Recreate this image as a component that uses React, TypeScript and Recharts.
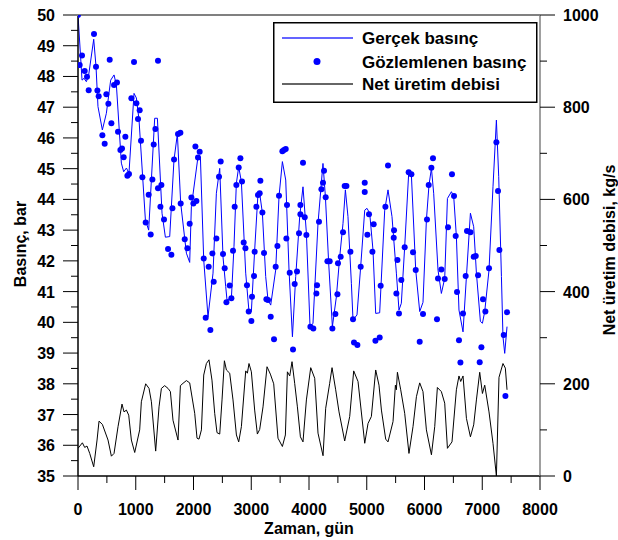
import { ComposedChart, Line, Scatter, XAxis, YAxis, ReferenceLine, Legend, Label } from 'recharts';

// [gün, bar]
const gercekBasinc: [number, number][] = [
  [0, 50], [70, 47.88], [104, 47.94], [145, 47.83], [185, 48.05], [272, 49.21], [312, 48.32],
  [346, 47.02], [422, 46.26], [491, 46.8], [566, 47.88], [624, 48.05], [665, 47.72], [751, 45.18],
  [791, 44.9], [838, 45.02], [883, 44.86], [970, 47.45], [1011, 47.3], [1057, 46.58], [1167, 43.33],
  [1224, 43.0], [1328, 46.64], [1375, 46.64], [1455, 43.55], [1513, 42.77], [1588, 42.79], [1662, 45.28],
  [1721, 46.13], [1778, 43.88], [1877, 42.25], [1934, 41.95], [1963, 43.76], [2078, 45.39], [2120, 45.34],
  [2177, 42.03], [2251, 40.18], [2338, 41.6], [2396, 44.2], [2454, 45.01], [2511, 42.13], [2558, 41.16],
  [2580, 40.73], [2656, 40.78], [2701, 42.46], [2742, 44.52], [2783, 45.06], [2829, 44.57], [2904, 41.6],
  [2961, 40.35], [3002, 40.35], [3059, 42.35], [3117, 44.2], [3146, 44.2], [3193, 43.55], [3250, 41.49],
  [3290, 40.73], [3337, 40.56], [3423, 41.7], [3481, 44.1], [3539, 45.23], [3597, 44.63], [3654, 41.7],
  [3713, 39.53], [3770, 41.49], [3839, 43.44], [3896, 44.41], [3955, 42.9], [4018, 39.86], [4069, 39.97],
  [4156, 43.22], [4242, 45.17], [4284, 44.09], [4341, 41.92], [4405, 39.86], [4474, 40.83], [4532, 42.13],
  [4589, 43.22], [4630, 44.31], [4675, 43.44], [4734, 41.27], [4762, 40.08], [4831, 40.24], [4895, 41.81],
  [4965, 43.65], [5004, 43.71], [5051, 43.55], [5108, 42.35], [5155, 40.29], [5224, 40.31], [5311, 43.65],
  [5368, 44.31], [5437, 43.44], [5513, 41.6], [5558, 40.4], [5599, 40.62], [5657, 42.46], [5726, 44.85],
  [5773, 44.79], [5848, 41.7], [5917, 40.35], [5974, 40.65], [6033, 43.33], [6078, 44.47], [6120, 45.01],
  [6159, 44.2], [6234, 41.7], [6292, 40.94], [6350, 41.43], [6397, 44.03], [6466, 44.25], [6506, 44.09],
  [6552, 42.79], [6597, 40.4], [6667, 39.69], [6726, 41.49], [6795, 43.55], [6852, 43.11], [6899, 41.6],
  [6968, 40.03], [7003, 39.97], [7043, 40.35], [7117, 41.7], [7186, 44.41], [7245, 46.58], [7285, 44.74],
  [7332, 41.49], [7359, 39.53], [7389, 38.99], [7429, 39.86],
];

// [gün, bar]
const gozlemlenenBasinc: [number, number][] = [
  [0, 50], [29, 48.37], [69, 48.68], [116, 48.18], [156, 47.99], [185, 47.55], [277, 49.38], [312, 48.32],
  [336, 47.54], [358, 47.36], [422, 46.09], [462, 45.81], [491, 47.42], [526, 47.11], [549, 48.54],
  [578, 46.48], [624, 47.72], [675, 47.8], [693, 46.2], [734, 45.61], [762, 45.66], [791, 45.37],
  [820, 46.04], [855, 44.77], [883, 44.83], [924, 47.29], [970, 48.47], [1011, 47.13], [1039, 46.62],
  [1068, 46.9], [1091, 45.91], [1115, 44.72], [1172, 43.25], [1224, 44.15], [1259, 42.86], [1288, 44.65],
  [1311, 45.79], [1340, 46.29], [1385, 48.51], [1385, 44.36], [1427, 43.76], [1444, 44.47], [1489, 43.35],
  [1559, 42.39], [1617, 42.2], [1635, 43.71], [1663, 45.3], [1732, 46.13], [1773, 46.17], [1778, 43.87],
  [1848, 42.7], [1894, 42.41], [1934, 43.21], [1963, 44.06], [1998, 43.87], [2033, 45.72], [2050, 43.95],
  [2078, 45.36], [2107, 45.55], [2177, 42.08], [2211, 40.15], [2263, 41.81], [2292, 39.75], [2327, 42.24],
  [2350, 41.32], [2396, 42.73], [2442, 44.74], [2471, 45.23], [2511, 42.22], [2540, 41.76], [2570, 40.65],
  [2627, 41.2], [2656, 40.78], [2684, 42.33], [2713, 43.76], [2742, 44.47], [2783, 45.04], [2812, 45.34],
  [2840, 44.58], [2869, 42.6], [2899, 42.41], [2926, 41.21], [2956, 40.35], [3002, 40.04], [3013, 40.83],
  [3048, 41.51], [3059, 42.3], [3089, 43.76], [3117, 44.14], [3146, 44.2], [3158, 44.61], [3193, 43.57],
  [3221, 42.26], [3262, 40.75], [3290, 40.73], [3337, 40.18], [3394, 39.45], [3423, 41.81], [3453, 42.48],
  [3481, 44.12], [3539, 45.57], [3567, 45.61], [3597, 45.64], [3608, 42.73], [3619, 43.82], [3666, 41.61],
  [3723, 39.12], [3752, 41.25], [3792, 41.65], [3827, 42.9], [3851, 43.52], [3851, 43.82], [3896, 45.19],
  [3926, 43.42], [3955, 42.84], [4024, 39.86], [4075, 39.8], [4128, 40.94], [4139, 41.21], [4173, 43.27],
  [4215, 44.33], [4242, 44.54], [4260, 44.93], [4289, 44.07], [4319, 41.99], [4358, 41.99], [4405, 39.8],
  [4457, 40.27], [4492, 40.91], [4502, 41.92], [4549, 42.13], [4589, 42.93], [4618, 44.44], [4648, 44.44],
  [4717, 42.3], [4762, 40.1], [4779, 39.34], [4838, 39.26], [4895, 41.81], [4965, 44.54], [4965, 44.24],
  [5011, 42.85], [5039, 43.52], [5098, 42.3], [5120, 43.19], [5150, 39.4], [5224, 39.51], [5241, 41.19],
  [5323, 43.76], [5368, 45.1], [5467, 42.75], [5472, 43.0], [5513, 40.94], [5531, 42.03], [5558, 40.29],
  [5599, 41.38], [5657, 42.44], [5726, 44.88], [5773, 44.82], [5801, 42.28], [5848, 41.7], [5917, 39.37],
  [5974, 40.27], [6043, 43.35], [6073, 44.47], [6119, 45.03], [6147, 45.34], [6216, 40.1], [6234, 41.43],
  [6292, 41.72], [6350, 41.41], [6407, 43.09], [6476, 44.82], [6511, 44.11], [6540, 42.81], [6563, 40.99],
  [6597, 39.42], [6622, 38.69], [6667, 40.29], [6713, 41.51], [6736, 42.97], [6795, 42.93], [6852, 42.13],
  [6887, 42.16], [6927, 41.53], [6956, 38.7], [6985, 39.19], [7013, 40.75], [7054, 40.35], [7117, 41.76],
  [7245, 45.86], [7273, 44.27], [7297, 42.35], [7372, 39.59], [7401, 37.6], [7429, 40.33],
];

// [gün, kg/s]
const netUretimDebisi: [number, number][] = [
  [0, 60], [76, 72], [116, 62], [156, 65], [203, 49], [272, 20], [330, 78], [364, 119], [422, 112],
  [520, 78], [578, 43], [624, 49], [693, 107], [762, 156], [797, 139], [838, 143], [878, 132], [924, 78],
  [982, 51], [1068, 100], [1097, 161], [1172, 200], [1230, 190], [1271, 161], [1345, 54], [1403, 150],
  [1444, 190], [1501, 196], [1559, 190], [1600, 183], [1645, 121], [1732, 78], [1773, 196], [1818, 201],
  [1877, 207], [1934, 202], [2021, 136], [2061, 82], [2095, 80], [2137, 100], [2177, 219], [2223, 244],
  [2268, 252], [2320, 208], [2367, 136], [2407, 94], [2454, 91], [2494, 165], [2535, 250], [2570, 230],
  [2627, 223], [2684, 165], [2743, 89], [2783, 74], [2829, 107], [2904, 228], [2933, 223], [2961, 244],
  [3002, 226], [3059, 143], [3106, 91], [3146, 101], [3204, 150], [3273, 237], [3331, 221], [3389, 200],
  [3463, 82], [3539, 64], [3591, 89], [3626, 226], [3666, 217], [3706, 248], [3752, 201], [3799, 150],
  [3851, 85], [3896, 74], [3955, 165], [4030, 235], [4099, 212], [4156, 93], [4243, 44], [4289, 147],
  [4358, 201], [4399, 235], [4462, 187], [4520, 139], [4618, 76], [4705, 129], [4774, 228], [4849, 205],
  [4965, 71], [5022, 114], [5080, 129], [5155, 230], [5212, 197], [5254, 143], [5328, 80], [5368, 74],
  [5455, 118], [5496, 197], [5513, 187], [5531, 225], [5588, 187], [5657, 136], [5731, 49], [5801, 107],
  [5860, 172], [5917, 202], [5974, 183], [6033, 100], [6120, 46], [6177, 107], [6223, 192], [6292, 183],
  [6350, 158], [6397, 60], [6476, 74], [6552, 187], [6597, 217], [6627, 205], [6667, 217], [6726, 125],
  [6795, 85], [6852, 111], [6899, 165], [6956, 225], [7003, 179], [7043, 197], [7117, 139], [7186, 71],
  [7245, 0], [7290, 214], [7359, 244], [7400, 234], [7429, 187],
];

const xTicks = [0, 500, 1000, 1500, 2000, 2500, 3000, 3500, 4000, 4500, 5000, 5500, 6000, 6500, 7000, 7500, 8000];
const leftTicks = [35, 35.5, 36, 36.5, 37, 37.5, 38, 38.5, 39, 39.5, 40, 40.5, 41, 41.5, 42, 42.5, 43, 43.5,
  44, 44.5, 45, 45.5, 46, 46.5, 47, 47.5, 48, 48.5, 49, 49.5, 50];
const rightTicks = [0, 100, 200, 300, 400, 500, 600, 700, 800, 900, 1000];

const simData = gercekBasinc.map(([x, p]) => ({ x, p }));
const obsData = gozlemlenenBasinc.map(([x, p]) => ({ x, p }));
const flowData = netUretimDebisi.map(([x, q]) => ({ x, q }));

const font = {
  fontFamily: '"Liberation Sans", Arial, sans-serif',
  fontWeight: 700,
  fontSize: 16,
  fill: '#000',
};

function LeftTick({ x, y, payload }: any) {
  const v = payload.value as number;
  const major = v % 1 === 0;
  const top = v === 50;
  return (
    <g>
      <line x1={x} x2={x - (major ? 15 : 7)} y1={y} y2={y} stroke={top ? '#808080' : '#000'} strokeWidth={top ? 2 : 1} />
      {major && <text x={x - 23} y={y + 6} textAnchor="end" {...font}>{v}</text>}
    </g>
  );
}

function RightTick({ x, y, payload }: any) {
  const v = payload.value as number;
  const major = v % 200 === 0;
  return (
    <g>
      <line x1={x} x2={x + (major ? 15 : 7)} y1={y} y2={y} stroke="#000" />
      {major && <text x={x + 23} y={y + 6} textAnchor="start" {...font}>{v}</text>}
    </g>
  );
}

function BottomTick({ x, y, payload }: any) {
  const v = payload.value as number;
  const major = v % 1000 === 0;
  return (
    <g>
      <line x1={x} x2={x} y1={y} y2={y + (major ? 14 : 7)} stroke="#000" />
      {major && <text x={x} y={y + 39} textAnchor="middle" {...font}>{v}</text>}
    </g>
  );
}

// legend drawn by hand, in the box at the top right of the plot
const renderLegend = () => (
  <svg width={266} height={82} style={{ display: 'block' }}>
    <rect x={0.75} y={0.75} width={263} height={79.5} fill="#fff" stroke="#000" strokeWidth={1.5} />
    <line x1={9} x2={80} y1={16} y2={16} stroke="#3030ff" strokeWidth={1.5} />
    <text x={89} y={22} {...font} fontSize={17}>Gerçek basınç</text>
    <circle cx={44} cy={39.5} r={3.5} fill="#0000ff" />
    <text x={89} y={46} {...font} fontSize={17}>Gözlemlenen basınç</text>
    <line x1={9} x2={80} y1={62} y2={62} stroke="#333" strokeWidth={1.3} />
    <text x={89} y={68} {...font} fontSize={17}>Net üretim debisi</text>
  </svg>
);

export default function App() {
  return (
    <div style={{ position: 'absolute', left: 0, top: 0, background: '#fff' }}>
      <ComposedChart width={618} height={540} margin={{ top: 15, right: 0, bottom: 0, left: 0 }}>
        <XAxis
          dataKey="x"
          type="number"
          domain={[0, 8000]}
          ticks={xTicks}
          interval={0}
          allowDataOverflow
          height={64}
          tickSize={0}
          tickMargin={0}
          tickLine={false}
          tick={<BottomTick />}
          axisLine={{ stroke: '#000', strokeWidth: 1.5 }}
        >
          <Label content={() => <text x={309} y={534} textAnchor="middle" {...font}>Zaman, gün</text>} />
        </XAxis>
        <YAxis
          yAxisId="left"
          orientation="left"
          type="number"
          domain={[35, 50]}
          ticks={leftTicks}
          interval={0}
          allowDataOverflow
          width={78}
          tickSize={0}
          tickMargin={0}
          tickLine={false}
          tick={<LeftTick />}
          axisLine={{ stroke: '#000', strokeWidth: 1.5 }}
        >
          <Label content={() => (
            <text transform="translate(26,244) rotate(-90)" textAnchor="middle" {...font}>Basınç, bar</text>
          )} />
        </YAxis>
        <YAxis
          yAxisId="right"
          orientation="right"
          type="number"
          domain={[0, 1000]}
          ticks={rightTicks}
          interval={0}
          allowDataOverflow
          width={78}
          tickSize={0}
          tickMargin={0}
          tickLine={false}
          tick={<RightTick />}
          axisLine={{ stroke: '#808080', strokeWidth: 1.5 }}
        >
          <Label content={() => (
            <text transform="translate(615,250) rotate(-90)" textAnchor="middle" {...font}>Net üretim debisi, kg/s</text>
          )} />
        </YAxis>
        <ReferenceLine yAxisId="left" y={50} stroke="#808080" strokeWidth={2} />
        <Line
          yAxisId="right"
          data={flowData}
          dataKey="q"
          type="linear"
          stroke="#000"
          strokeWidth={1}
          dot={false}
          isAnimationActive={false}
        />
        <Line
          yAxisId="left"
          data={simData}
          dataKey="p"
          type="linear"
          stroke="#0000ff"
          strokeWidth={1}
          dot={false}
          isAnimationActive={false}
        />
        <Scatter
          yAxisId="left"
          data={obsData}
          dataKey="p"
          fill="#0000ff"
          isAnimationActive={false}
          shape={(p: any) => <circle cx={p.cx} cy={p.cy} r={3} fill="#0000ff" />}
        />
        <Legend
          layout="horizontal"
          verticalAlign="middle"
          align="center"
          content={renderLegend}
          wrapperStyle={{ left: 273, top: 22, width: 266, height: 82 }}
        />
      </ComposedChart>
    </div>
  );
}
